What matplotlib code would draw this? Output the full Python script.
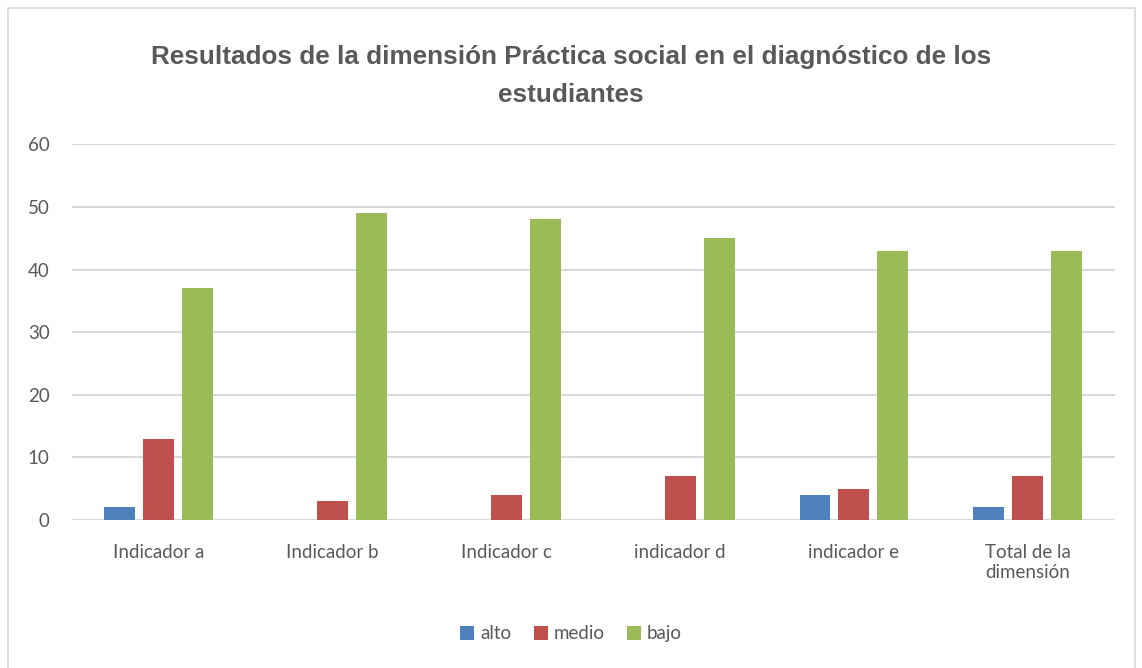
import numpy as np
import matplotlib.pyplot as plt
from matplotlib.patches import Rectangle

# Chart data
categories = ['Indicador a', 'Indicador b', 'Indicador c', 'indicador d',
              'indicador e', 'Total de la\ndimensión']
series_names = ['alto', 'medio', 'bajo']
alto = [2, 0, 0, 0, 4, 2]
medio = [13, 3, 4, 7, 5, 7]
bajo = [37, 49, 48, 45, 43, 43]

COLORS = ['#4F81BD', '#C0504D', '#9BBB59']
TEXT_GRAY = '#595959'

plt.rcParams['font.family'] = ['Lato', 'DejaVu Sans']


def main():
    fig = plt.figure(figsize=(11.42, 6.68), dpi=100)
    ax = fig.add_axes([0.063, 0.2216, 0.913, 0.5624])

    # Outer chart border
    fig.patches.append(Rectangle((0.007, -0.01), 0.987, 0.998, transform=fig.transFigure,
                                 fill=False, edgecolor='#D9D9D9', linewidth=1.2))

    x = np.arange(len(categories))
    width = 0.178
    step = 0.224
    for i, (name, vals) in enumerate(zip(series_names, [alto, medio, bajo])):
        ax.bar(x + (i - 1) * step, vals, width, color=COLORS[i], label=name, zorder=3)

    ax.set_xlim(-0.5, len(categories) - 0.5)
    ax.set_ylim(0, 60)
    ax.set_yticks(range(0, 61, 10))
    ax.grid(axis='y', color='#D9D9D9', linewidth=1.5, zorder=0)
    for s in ax.spines.values():
        s.set_visible(False)
    ax.axhline(0, color='#D9D9D9', linewidth=1.5, zorder=1)
    ax.tick_params(length=0, colors=TEXT_GRAY, labelsize=13.5)
    ax.tick_params(axis='y', pad=16)
    ax.tick_params(axis='x', pad=17)
    ax.set_xticks(x)
    ax.set_xticklabels(categories, va='top', linespacing=1.25)

    fig.text(0.5, 0.886, 'Resultados de la dimensión Práctica social en el diagnóstico de los\nestudiantes',
             ha='center', va='center', fontsize=18.8, fontweight='bold', color=TEXT_GRAY,
             family=['Liberation Sans Narrow', 'Liberation Sans', 'DejaVu Sans'], linespacing=1.75)

    leg = fig.legend(loc='center', bbox_to_anchor=(0.5, 0.051), ncol=3, frameon=False,
                     handlelength=0.75, handleheight=0.75, handletextpad=0.3, columnspacing=1.2,
                     prop={'size': 13.5})
    for t in leg.get_texts():
        t.set_color(TEXT_GRAY)

    fig.savefig('out.png', dpi=100)


if __name__ == '__main__':
    main()
